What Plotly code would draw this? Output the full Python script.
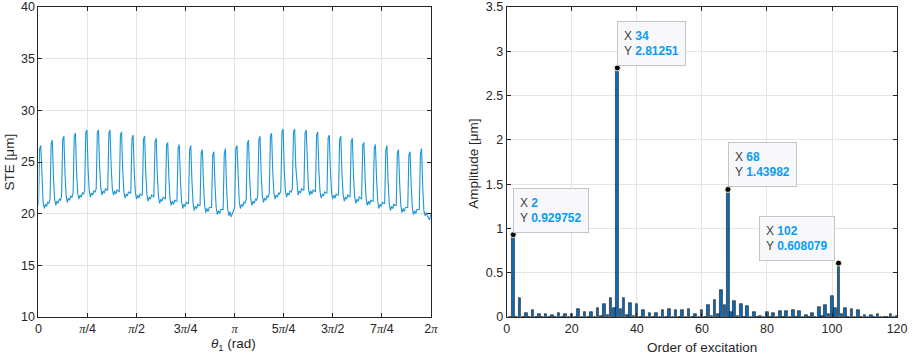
import numpy as np
import plotly.graph_objects as go

# ---------------- Left panel: STE over one revolution (10 samples per mesh period, 34 teeth) -------------
ste_teeth = [
    [20.8, 26.3, 26.6, 23.2, 21.1, 20.5, 20.9, 20.7, 21.1, 21.0],
    [21.4, 26.8, 27.1, 23.5, 21.4, 20.8, 21.2, 21.0, 21.4, 21.3],
    [21.7, 27.2, 27.5, 23.8, 21.7, 21.1, 21.5, 21.3, 21.7, 21.6],
    [22.0, 27.5, 27.8, 24.1, 22.0, 21.4, 21.8, 21.6, 22.0, 21.9],
    [22.2, 27.9, 28.1, 24.3, 22.2, 21.6, 22.0, 21.8, 22.2, 22.1],
    [22.4, 27.9, 28.1, 24.5, 22.5, 21.8, 22.2, 22.0, 22.4, 22.3],
    [22.3, 27.8, 28.1, 24.5, 22.4, 21.8, 22.2, 21.9, 22.3, 22.2],
    [22.1, 27.6, 27.9, 24.2, 22.1, 21.5, 21.9, 21.7, 22.1, 22.0],
    [22.0, 27.3, 27.6, 24.1, 22.0, 21.4, 21.8, 21.5, 21.9, 21.8],
    [21.8, 27.2, 27.5, 23.9, 21.8, 21.2, 21.6, 21.4, 21.8, 21.7],
    [21.6, 27.0, 27.3, 23.7, 21.6, 21.0, 21.4, 21.2, 21.6, 21.5],
    [21.4, 26.6, 26.9, 23.5, 21.4, 20.8, 21.2, 20.9, 21.3, 21.2],
    [21.2, 26.3, 26.7, 23.3, 21.2, 20.5, 20.9, 20.7, 21.1, 21.0],
    [21.0, 26.2, 26.6, 23.1, 21.0, 20.3, 20.7, 20.5, 20.9, 20.8],
    [20.8, 25.9, 26.2, 22.9, 20.8, 20.1, 20.5, 20.2, 20.6, 20.6],
    [20.6, 25.7, 26.0, 22.7, 20.6, 19.9, 20.3, 20.0, 20.4, 20.4],
    [20.4, 25.8, 26.3, 22.5, 20.4, 19.8, 20.2, 19.7, 20.1, 20.3],
    [20.6, 26.3, 26.6, 23.2, 21.1, 20.5, 20.9, 20.7, 21.1, 21.0],
    [21.4, 26.8, 27.1, 23.5, 21.4, 20.8, 21.2, 21.0, 21.4, 21.3],
    [21.7, 27.2, 27.5, 23.8, 21.7, 21.1, 21.5, 21.3, 21.7, 21.6],
    [22.0, 27.5, 27.8, 24.1, 22.0, 21.4, 21.8, 21.6, 22.0, 21.9],
    [22.2, 27.9, 28.2, 24.3, 22.2, 21.6, 22.0, 21.8, 22.2, 22.1],
    [22.4, 27.9, 28.2, 24.5, 22.5, 21.8, 22.2, 22.0, 22.4, 22.3],
    [22.3, 27.8, 28.1, 24.5, 22.4, 21.8, 22.2, 21.9, 22.3, 22.2],
    [22.1, 27.6, 27.9, 24.2, 22.1, 21.5, 21.9, 21.7, 22.1, 22.0],
    [22.0, 27.3, 27.6, 24.1, 22.0, 21.4, 21.8, 21.5, 21.9, 21.8],
    [21.8, 27.2, 27.5, 23.9, 21.8, 21.2, 21.6, 21.4, 21.8, 21.7],
    [21.6, 27.0, 27.3, 23.7, 21.6, 21.0, 21.4, 21.2, 21.6, 21.5],
    [21.4, 26.6, 26.9, 23.5, 21.4, 20.8, 21.2, 20.9, 21.3, 21.2],
    [21.2, 26.3, 26.7, 23.3, 21.2, 20.5, 20.9, 20.7, 21.1, 21.0],
    [21.0, 26.2, 26.6, 23.1, 21.0, 20.3, 20.7, 20.5, 20.9, 20.8],
    [20.8, 25.9, 26.2, 22.9, 20.8, 20.1, 20.5, 20.2, 20.6, 20.6],
    [20.6, 25.7, 26.0, 22.7, 20.6, 19.9, 20.3, 20.0, 20.4, 20.4],
    [20.4, 25.8, 26.3, 22.5, 20.3, 19.8, 20.1, 19.8, 19.5, 19.4],
]
ste_end = [20.0]
ste_values = [v for row in ste_teeth for v in row] + ste_end
theta = np.linspace(0, 2 * np.pi, len(ste_values))

theta_tickvals = [0, np.pi / 4, np.pi / 2, 3 * np.pi / 4, np.pi,
                  5 * np.pi / 4, 3 * np.pi / 2, 7 * np.pi / 4, 2 * np.pi]
PI = "<span style='font-family:Liberation Serif;font-style:italic'>π</span>"
theta_ticktext = ["0", PI + "/4", PI + "/2", "3" + PI + "/4", PI,
                  "5" + PI + "/4", "3" + PI + "/2", "7" + PI + "/4", "2" + PI]

# ---------------- Right panel: order spectrum ----------------
orders = list(range(1, 121))
amplitudes = [
    0.0, 0.929752, 0.005, 0.215, 0.004, 0.04, 0.003, 0.078, 0.003, 0.03,     # 1-10
    0.002, 0.03, 0.002, 0.022, 0.002, 0.04, 0.002, 0.037, 0.002, 0.037,      # 11-20
    0.003, 0.085, 0.003, 0.052, 0.003, 0.052, 0.004, 0.104, 0.006, 0.15,     # 21-30
    0.02, 0.22, 0.10, 2.81251, 0.088, 0.22, 0.025, 0.16, 0.015, 0.15,        # 31-40
    0.005, 0.078, 0.004, 0.048, 0.003, 0.048, 0.003, 0.078, 0.003, 0.09,     # 41-50
    0.003, 0.078, 0.003, 0.08, 0.003, 0.09, 0.003, 0.03, 0.004, 0.078,       # 51-60
    0.005, 0.14, 0.008, 0.19, 0.037, 0.30, 0.13, 1.43982, 0.06, 0.186,       # 61-70
    0.008, 0.15, 0.005, 0.126, 0.004, 0.06, 0.003, 0.01, 0.002, 0.06,        # 71-80
    0.002, 0.045, 0.002, 0.063, 0.002, 0.063, 0.002, 0.075, 0.002, 0.067,    # 81-90
    0.003, 0.026, 0.003, 0.048, 0.004, 0.11, 0.008, 0.14, 0.03, 0.24,        # 91-100
    0.10, 0.608079, 0.037, 0.097, 0.004, 0.085, 0.003, 0.078, 0.002, 0.026,  # 101-110
    0.002, 0.018, 0.002, 0.035, 0.002, 0.005, 0.002, 0.03, 0.002, 0.015,     # 111-120
]
tip_x = [2, 34, 68, 102]
tip_y = [0.929752, 2.81251, 1.43982, 0.608079]
tip_side = ["right", "right", "right", "left"]

LINE_BLUE = "#1b96d6"
BAR_BLUE = "#0b6bb8"
TIP_BLUE = "#0a9cf0"
AXC = "#262626"
GRID = "#e4e4e4"
FONT = "Liberation Sans, Arial, sans-serif"

fig = go.Figure()
fig.add_trace(go.Scatter(x=theta, y=ste_values, mode="lines",
                         line=dict(color=LINE_BLUE, width=1.1),
                         xaxis="x", yaxis="y", showlegend=False))
fig.add_trace(go.Bar(x=orders, y=amplitudes, width=0.8,
                     marker=dict(color=BAR_BLUE, line=dict(color="#1a1a1a", width=0.6)),
                     xaxis="x2", yaxis="y2", showlegend=False))
fig.add_trace(go.Scatter(x=tip_x, y=tip_y, mode="markers",
                         marker=dict(color="black", size=6, line=dict(color="#f3efcf", width=1)),
                         xaxis="x2", yaxis="y2", showlegend=False))

W, H = 913, 358
T, B = 4, 41
PH = H - T - B

axis_common = dict(showline=True, linecolor=AXC, linewidth=1, mirror="ticks",
                   ticks="inside", ticklen=4, tickcolor=AXC, tickwidth=1,
                   showgrid=True, gridcolor=GRID, gridwidth=1, zeroline=False,
                   ticklabeloverflow="allow",
                   tickfont=dict(family=FONT, size=12.5, color=AXC))

fig.update_layout(
    width=W, height=H,
    margin=dict(l=0, r=0, t=T, b=B),
    paper_bgcolor="white", plot_bgcolor="white",
    font=dict(family=FONT, color=AXC),
    bargap=0,
    xaxis=dict(domain=[36 / W, 434 / W], range=[0, 2 * np.pi],
               tickvals=theta_tickvals, ticktext=theta_ticktext, anchor="y", **axis_common),
    yaxis=dict(domain=[0, 1], range=[10, 40], tickvals=[10, 15, 20, 25, 30, 35, 40],
               anchor="x", **axis_common),
    xaxis2=dict(domain=[511 / W, 907 / W], range=[0, 120], tickvals=[0, 20, 40, 60, 80, 100, 120],
                anchor="y2", **axis_common),
    yaxis2=dict(domain=[0, 1], range=[0, 3.5], tickvals=[0, 0.5, 1, 1.5, 2, 2.5, 3, 3.5],
                anchor="x2", **axis_common),
)

def py(px):
    return (H - B - px) / PH

titles = [
    ("STE [μm]", 7 / W, py(160), -90),
    ("<i>θ</i><sub>1</sub> (rad)", 234 / W, py(345), 0),
    ("Amplitude [μm]", 477 / W, py(162), -90),
    ("Order of excitation", 709 / W, py(348), 0),
]
for text, x, y, ang in titles:
    fig.add_annotation(text=text, x=x, y=y, xref="paper", yref="paper",
                       showarrow=False, textangle=ang, xanchor="center", yanchor="middle",
                       font=dict(family=FONT, size=13.5, color=AXC))

for xv, yv, side in zip(tip_x, tip_y, tip_side):
    txt = (f"X <b><span style='color:{TIP_BLUE}'>{xv}</span></b><br>"
           f"Y <b><span style='color:{TIP_BLUE}'>{yv:g}</span></b>")
    fig.add_annotation(
        text=txt, x=xv, y=yv, xref="x2", yref="y2", showarrow=False,
        xanchor="left" if side == "right" else "right", yanchor="bottom",
        xshift=0 if side == "right" else -4, yshift=2,
        align="left", height=31, borderpad=6,
        bgcolor="#f8f8fb", bordercolor="#c4c4cc", borderwidth=1,
        font=dict(family=FONT, size=12, color="#404040"))

# remove the browser's default 8px body margin so the figure fills the window; hide the modebar
fig.write_html("out.html", config={"displayModeBar": False},
               post_script="document.body.style.margin='0px';")
